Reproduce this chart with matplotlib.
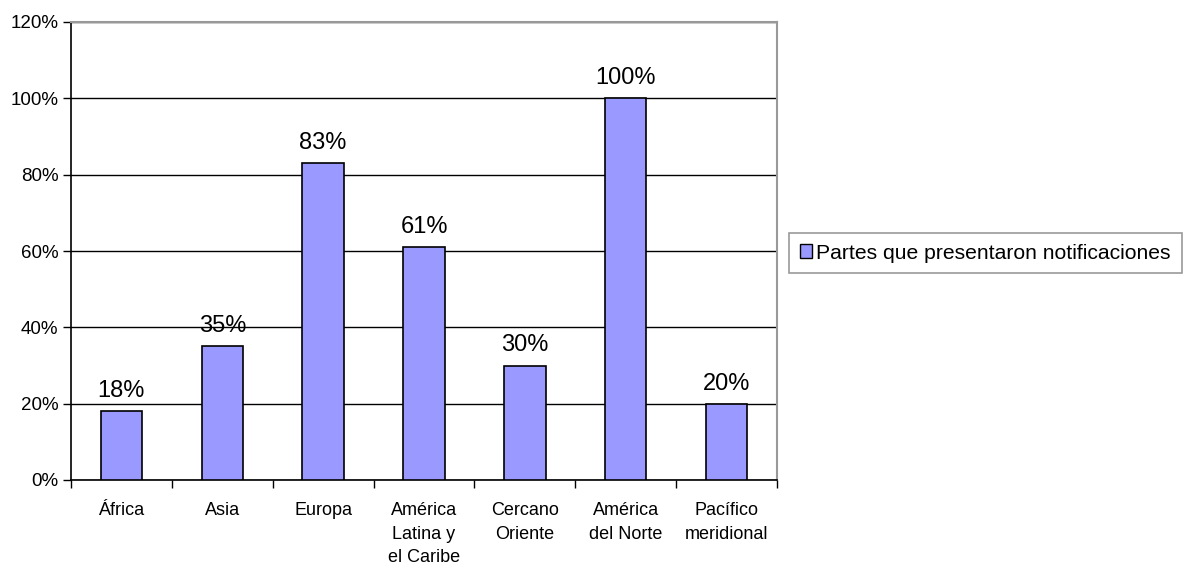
import matplotlib
matplotlib.use("Agg")
import matplotlib.pyplot as plt
from matplotlib.patches import Patch
from matplotlib.ticker import FixedLocator

categories = ["África", "Asia", "Europa", "América\nLatina y\nel Caribe",
              "Cercano\nOriente", "América\ndel Norte", "Pacífico\nmeridional"]
values = [18, 35, 83, 61, 30, 100, 20]
value_labels = ["18%", "35%", "83%", "61%", "30%", "100%", "20%"]
yticks = [0, 20, 40, 60, 80, 100, 120]
ytick_labels = ["0%", "20%", "40%", "60%", "80%", "100%", "120%"]
series_name = "Partes que presentaron notificaciones"

plt.rcParams['font.family'] = ['Liberation Sans', 'DejaVu Sans']

W, H = 1192, 566
fig = plt.figure(figsize=(W / 100, H / 100), dpi=100)
ax = fig.add_axes([71 / W, (H - 480) / H, 706 / W, 458 / H])

color = "#9999FF"
x = list(range(len(categories)))
ax.bar(x, values, width=0.41, color=color, edgecolor="black", linewidth=1.2, zorder=3)

ax.set_xlim(-0.5, len(categories) - 0.5)
ax.set_ylim(0, 120)
ax.set_yticks(yticks)
ax.set_yticklabels(ytick_labels, fontsize=13.5)
ax.yaxis.grid(True, color="black", linewidth=1.0, zorder=0)
ax.set_axisbelow(True)

ax.set_xticks(x)
ax.set_xticklabels(categories, fontsize=13, linespacing=1.5, va="top")
ax.tick_params(axis="x", length=0, pad=16)
ax.xaxis.set_minor_locator(FixedLocator([i - 0.5 for i in range(len(categories) + 1)]))
ax.tick_params(axis="x", which="minor", length=6, width=1, color="black", direction="out")
ax.tick_params(axis="y", length=6, width=1, color="black", direction="out", pad=3)

for s in ["top", "right"]:
    ax.spines[s].set_color("#999999")
    ax.spines[s].set_linewidth(1.5)
for s in ["left", "bottom"]:
    ax.spines[s].set_color("black")
    ax.spines[s].set_linewidth(1.2)

for xi, v, lab in zip(x, values, value_labels):
    ax.annotate(lab, (xi, v), xytext=(0, 6.5), textcoords="offset points",
                ha="center", va="bottom", fontsize=17)

handle = Patch(facecolor=color, edgecolor="black", linewidth=1.0)
leg = fig.legend([handle], [series_name], loc="center left",
                 bbox_to_anchor=(789 / W, 1 - 253 / H), fontsize=15.2,
                 frameon=True, fancybox=False, edgecolor="#808080",
                 handlelength=0.6, handleheight=0.6, handletextpad=0.2,
                 borderpad=0.5, borderaxespad=0)
leg.get_frame().set_linewidth(1.2)

fig.savefig("out.png", dpi=100)
